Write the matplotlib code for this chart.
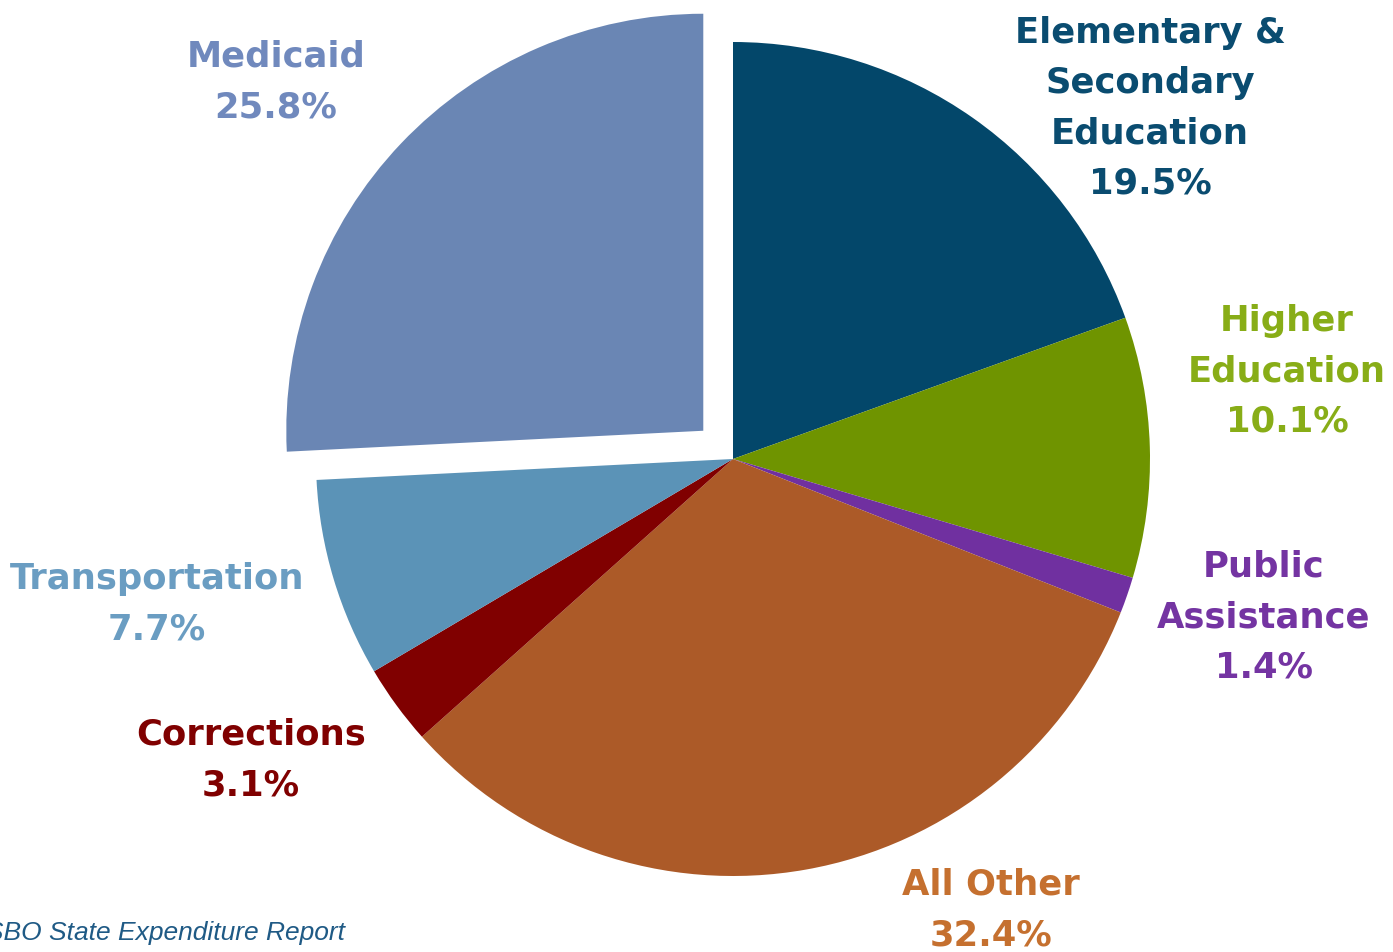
import matplotlib.pyplot as plt
from matplotlib import font_manager

# spending shares, clockwise from 12 o'clock
categories = ["Elementary &\nSecondary\nEducation", "Higher\nEducation", "Public\nAssistance",
              "All Other", "Corrections", "Transportation", "Medicaid"]
shares = [19.5, 10.1, 1.4, 32.4, 3.1, 7.7, 25.8]

wedge_colors = ["#03476A", "#6F9400", "#7030A0", "#AC5A28", "#800000", "#5B93B7", "#6A86B4"]
label_colors = ["#0A4C70", "#88AD17", "#7434A2", "#C5702F", "#800000", "#6A9DC2", "#7089BD"]
# label anchor points (pixels, top-left origin)
label_xy = [(1150, 108), (1287, 371), (1264, 617), (991, 910), (251, 760), (157, 604), (276, 82)]

W, H = 1393, 953
R = 417
fig = plt.figure(figsize=(W / 100, H / 100), dpi=100)
ax = fig.add_axes([0, 0, 1, 1])

# pie explode offsets are in data units, so pull Medicaid out by ~41 px
explode = [0, 0, 0, 0, 0, 0, 41]
ax.pie(shares, colors=wedge_colors, startangle=90, counterclock=False,
       center=(733, H - 460), radius=R, explode=explode,
       wedgeprops=dict(linewidth=0))
ax.set_xlim(0, W)
ax.set_ylim(0, H)
ax.set_aspect("equal")
ax.axis("off")

for name, val, col, (x, y) in zip(categories, shares, label_colors, label_xy):
    ax.text(x, H - y, f"{name}\n{val}%", color=col, ha="center", va="center",
            fontsize=25.5, fontweight="bold", family="DejaVu Sans", linespacing=1.6)

names = {f.name for f in font_manager.fontManager.ttflist}
if "Liberation Sans Narrow" in names:
    src_font, src_size = "Liberation Sans Narrow", 22
else:
    src_font, src_size = "Liberation Sans", 19
ax.text(345, H - 933, "Source: NASBO State Expenditure Report", color="#1F5A85",
        ha="right", va="center", fontsize=src_size, style="italic", family=src_font)

fig.savefig("out.png", dpi=100)
